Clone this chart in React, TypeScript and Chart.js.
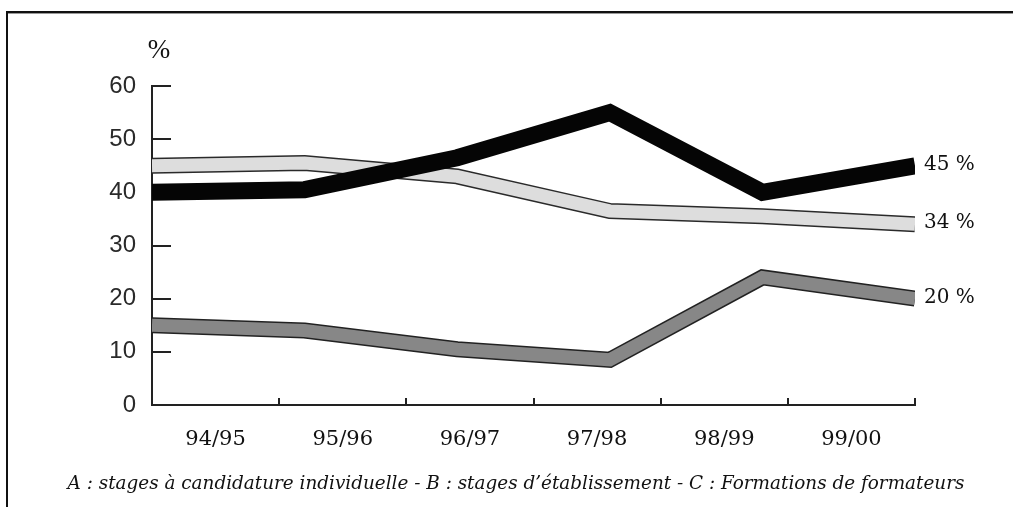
import { useEffect, useRef } from 'react';
import { Chart, registerables } from 'chart.js';

Chart.register(...registerables);

// ---- data ----
const categories = ['94/95', '95/96', '96/97', '97/98', '98/99', '99/00'];
const seriesA = [40, 40.5, 46.5, 55, 40, 45];
const seriesB = [45, 45.5, 43, 36.5, 35.5, 34];
const seriesC = [15, 14, 10.5, 8.5, 24, 20];
const endLabels = ['45 %', '34 %', '20 %'];
const yMin = 0;
const yMax = 60;
const yStep = 10;
const unitLabel = '%';
const caption =
  'A : stages à candidature individuelle - B : stages d’établissement - C : Formations de formateurs';

const W = 1013;
const H = 507;

const toXY = (arr: number[]) => arr.map((y, i) => ({ x: i, y }));

const decorPlugin = {
  id: 'decor',
  beforeDraw(chart: any) {
    const ctx = chart.ctx;
    ctx.save();
    ctx.fillStyle = '#fff';
    ctx.fillRect(0, 0, W, H);
    // frame (top and left)
    ctx.fillStyle = '#111';
    ctx.fillRect(6, 11, W - 6, 2);
    ctx.fillRect(6, 11, 2, H - 11);
    ctx.fillStyle = '#999';
    ctx.fillRect(8, 13, W - 8, 1);
    ctx.restore();
  },
  beforeDatasetsDraw(chart: any) {
    const ctx = chart.ctx;
    const area = chart.chartArea;
    const ys = chart.scales.y;
    const xc = chart.scales.xc;
    ctx.save();
    ctx.strokeStyle = '#222';
    ctx.lineWidth = 2;
    ctx.beginPath();
    ys.ticks.forEach((t: any) => {
      const py = Math.round(ys.getPixelForValue(t.value));
      ctx.moveTo(area.left, py);
      ctx.lineTo(area.left + 19, py);
    });
    for (let i = 1; i <= categories.length; i++) {
      const px = Math.round(xc.getPixelForValue(i - 0.5));
      ctx.moveTo(px, area.bottom);
      ctx.lineTo(px, area.bottom - 7);
    }
    ctx.stroke();
    ctx.restore();
  },
  afterDraw(chart: any) {
    const ctx = chart.ctx;
    const area = chart.chartArea;
    const ys = chart.scales.y;
    ctx.save();
    ctx.fillStyle = '#111';
    // unit label
    ctx.font = '27px "Liberation Serif"';
    ctx.textAlign = 'center';
    ctx.textBaseline = 'middle';
    ctx.fillText(unitLabel, area.left + 7, 51);
    // end labels
    ctx.font = '20px "DejaVu Serif"';
    ctx.textAlign = 'left';
    const lasts = [seriesA, seriesB, seriesC].map((s) => s[s.length - 1]);
    lasts.forEach((v, i) => {
      ctx.fillText(endLabels[i], area.right + 9, ys.getPixelForValue(v) - 1);
    });
    // caption
    ctx.font = 'italic 18.4px "DejaVu Serif"';
    ctx.textAlign = 'center';
    ctx.textBaseline = 'alphabetic';
    ctx.fillText(caption, 516, 489);
    ctx.restore();
  },
};

export default function App() {
  const ref = useRef<HTMLCanvasElement | null>(null);

  useEffect(() => {
    if (!ref.current) return;
    const lineBase = {
      pointRadius: 0,
      pointHoverRadius: 0,
      tension: 0,
      borderJoinStyle: 'miter' as const,
      borderCapStyle: 'butt' as const,
      fill: false,
      xAxisID: 'x',
      yAxisID: 'y',
    };
    const chart = new Chart(ref.current, {
      type: 'line',
      data: {
        datasets: [
          { ...lineBase, label: 'A', data: toXY(seriesA), borderColor: '#050505', borderWidth: 17 },
          { ...lineBase, label: 'B', data: toXY(seriesB), borderColor: '#dddddd', borderWidth: 13 },
          { ...lineBase, label: 'B-edge', data: toXY(seriesB), borderColor: '#2a2a2a', borderWidth: 16 },
          { ...lineBase, label: 'C', data: toXY(seriesC), borderColor: '#878787', borderWidth: 13 },
          { ...lineBase, label: 'C-edge', data: toXY(seriesC), borderColor: '#222', borderWidth: 16 },
        ],
      },
      options: {
        animation: false,
        responsive: false,
        devicePixelRatio: 1,
        layout: { padding: { left: 0, top: 86, right: 98, bottom: 0 } },
        plugins: {
          legend: { display: false },
          tooltip: { enabled: false },
          title: { display: false },
        },
        scales: {
          x: { type: 'linear', min: 0, max: categories.length - 1, display: false },
          xc: {
            type: 'category',
            labels: categories,
            position: 'bottom',
            offset: true,
            grid: { display: true, offset: true, drawOnChartArea: false, drawTicks: false },
            border: { display: true, color: '#222', width: 2 },
            ticks: {
              font: { family: 'DejaVu Serif', size: 21 },
              color: '#111',
              padding: 22,
              maxRotation: 0,
              autoSkip: false,
            },
            afterFit: (s: any) => {
              s.height = H - 405;
            },
          },
          y: {
            type: 'linear',
            min: yMin,
            max: yMax,
            ticks: {
              stepSize: yStep,
              padding: 16,
              font: { family: 'Liberation Sans', size: 24 },
              color: '#2a2a2a',
            },
            grid: { drawOnChartArea: false, drawTicks: false },
            border: { display: true, color: '#222', width: 2 },
            afterFit: (s: any) => {
              s.width = 152;
            },
          },
        },
      },
      plugins: [decorPlugin],
    } as any);
    return () => chart.destroy();
  }, []);

  return (
    <div style={{ position: 'fixed', left: 0, top: 0, width: W, height: H, background: '#fff' }}>
      <canvas ref={ref} width={W} height={H} style={{ display: 'block' }} />
    </div>
  );
}
